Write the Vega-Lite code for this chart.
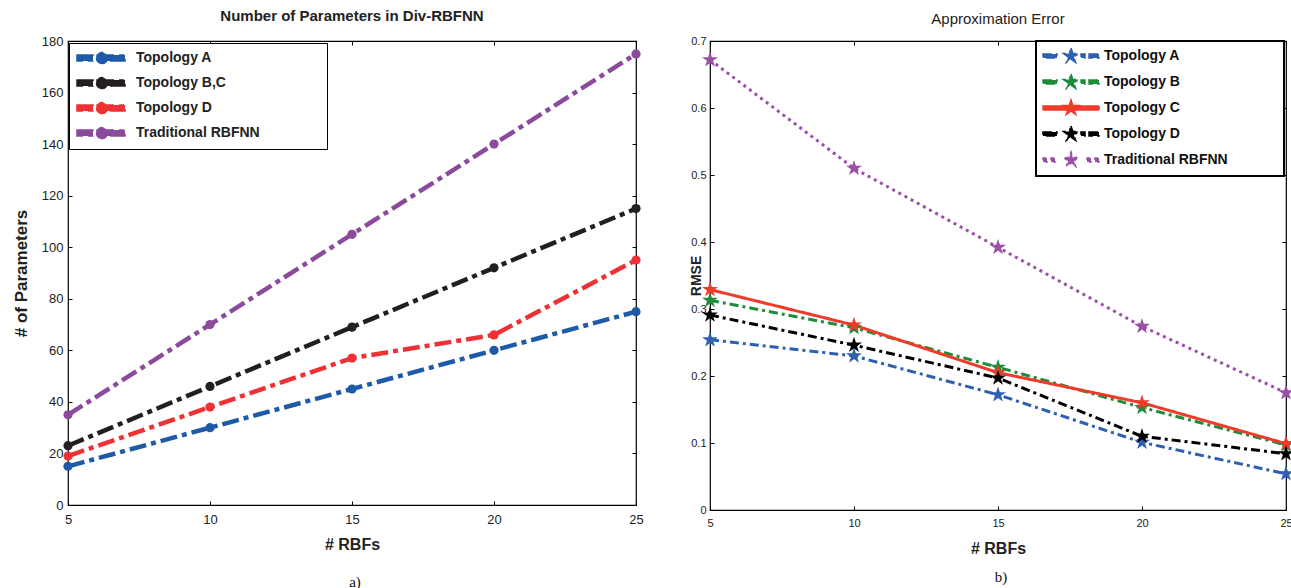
{
  "$schema": "https://vega.github.io/schema/vega-lite/v6.json",
  "background": "white",
  "padding": {"left": 11, "top": 8, "right": 0, "bottom": 0},
  "spacing": 42,
  "resolve": {"scale": {"color": "independent", "strokeDash": "independent"}, "legend": {"color": "independent"}},
  "config": {
    "font": "Liberation Sans",
    "view": {"stroke": "black", "strokeWidth": 1.2},
    "axis": {"grid": false, "domain": false, "tickColor": "black", "labelColor": "#222", "titleColor": "#222", "labelFont": "Liberation Sans", "titleFont": "Liberation Sans"}
  },
  "datasets": {
    "params": [
      {"rbf": 5, "topology": "Topology A", "params": 15},
      {"rbf": 10, "topology": "Topology A", "params": 30},
      {"rbf": 15, "topology": "Topology A", "params": 45},
      {"rbf": 20, "topology": "Topology A", "params": 60},
      {"rbf": 25, "topology": "Topology A", "params": 75},
      {"rbf": 5, "topology": "Topology B,C", "params": 23},
      {"rbf": 10, "topology": "Topology B,C", "params": 46},
      {"rbf": 15, "topology": "Topology B,C", "params": 69},
      {"rbf": 20, "topology": "Topology B,C", "params": 92},
      {"rbf": 25, "topology": "Topology B,C", "params": 115},
      {"rbf": 5, "topology": "Topology D", "params": 19},
      {"rbf": 10, "topology": "Topology D", "params": 38},
      {"rbf": 15, "topology": "Topology D", "params": 57},
      {"rbf": 20, "topology": "Topology D", "params": 66},
      {"rbf": 25, "topology": "Topology D", "params": 95},
      {"rbf": 5, "topology": "Traditional RBFNN", "params": 35},
      {"rbf": 10, "topology": "Traditional RBFNN", "params": 70},
      {"rbf": 15, "topology": "Traditional RBFNN", "params": 105},
      {"rbf": 20, "topology": "Traditional RBFNN", "params": 140},
      {"rbf": 25, "topology": "Traditional RBFNN", "params": 175}
    ],
    "error": [
      {"rbf": 5, "topology": "Topology A", "rmse": 0.254},
      {"rbf": 10, "topology": "Topology A", "rmse": 0.230},
      {"rbf": 15, "topology": "Topology A", "rmse": 0.172},
      {"rbf": 20, "topology": "Topology A", "rmse": 0.101},
      {"rbf": 25, "topology": "Topology A", "rmse": 0.054},
      {"rbf": 5, "topology": "Topology B", "rmse": 0.313},
      {"rbf": 10, "topology": "Topology B", "rmse": 0.272},
      {"rbf": 15, "topology": "Topology B", "rmse": 0.213},
      {"rbf": 20, "topology": "Topology B", "rmse": 0.153},
      {"rbf": 25, "topology": "Topology B", "rmse": 0.097},
      {"rbf": 5, "topology": "Topology C", "rmse": 0.329},
      {"rbf": 10, "topology": "Topology C", "rmse": 0.276},
      {"rbf": 15, "topology": "Topology C", "rmse": 0.205},
      {"rbf": 20, "topology": "Topology C", "rmse": 0.160},
      {"rbf": 25, "topology": "Topology C", "rmse": 0.099},
      {"rbf": 5, "topology": "Topology D", "rmse": 0.291},
      {"rbf": 10, "topology": "Topology D", "rmse": 0.246},
      {"rbf": 15, "topology": "Topology D", "rmse": 0.197},
      {"rbf": 20, "topology": "Topology D", "rmse": 0.110},
      {"rbf": 25, "topology": "Topology D", "rmse": 0.084},
      {"rbf": 5, "topology": "Traditional RBFNN", "rmse": 0.672},
      {"rbf": 10, "topology": "Traditional RBFNN", "rmse": 0.510},
      {"rbf": 15, "topology": "Traditional RBFNN", "rmse": 0.392},
      {"rbf": 20, "topology": "Traditional RBFNN", "rmse": 0.274},
      {"rbf": 25, "topology": "Traditional RBFNN", "rmse": 0.175}
    ]
  },
  "hconcat": [
    {
      "title": {"text": "a)", "orient": "bottom", "anchor": "middle", "frame": "group", "font": "Liberation Serif", "fontSize": 15, "fontWeight": "normal", "color": "#111", "offset": 22, "dx": 287},
      "vconcat": [
        {
          "width": 568,
          "height": 464,
          "title": {"text": "Number of Parameters in Div-RBFNN", "fontSize": 15, "fontWeight": "bold", "color": "#222", "frame": "group", "anchor": "middle", "offset": 11},
          "data": {"name": "params"},
          "resolve": {"axis": {"x": "independent", "y": "independent"}},
          "layer": [
            {
              "mark": {"type": "line", "strokeWidth": 4.5, "strokeCap": "butt"},
              "encoding": {
                "x": {"field": "rbf", "type": "quantitative", "scale": {"domain": [5, 25], "nice": false},
                  "axis": {"values": [5, 10, 15, 20, 25], "title": "# RBFs", "labelFontSize": 13, "titleFontSize": 16, "titleFontWeight": "bold", "tickSize": -4, "labelPadding": 12, "titlePadding": 10, "labelFlush": false}},
                "y": {"field": "params", "type": "quantitative", "scale": {"domain": [0, 180], "nice": false},
                  "axis": {"values": [0, 20, 40, 60, 80, 100, 120, 140, 160, 180], "title": "# of Parameters", "labelFontSize": 13, "titleFontSize": 17, "titleFontWeight": "bold", "tickSize": -4, "labelPadding": 9, "titlePadding": 11}},
                "color": {"field": "topology", "type": "nominal",
                  "scale": {"domain": ["Topology A", "Topology B,C", "Topology D", "Traditional RBFNN"], "range": ["#1f5aa8", "#231f20", "#ee3134", "#8b4a9c"]},
                  "legend": {"title": null, "orient": "none", "legendX": 1, "legendY": 2, "fillColor": "white", "strokeColor": "black", "padding": 7, "rowPadding": 7, "labelFontSize": 14, "labelFontWeight": "bold", "labelColor": "#222", "labelOffset": 44, "labelLimit": 400, "symbolSize": 196,
                    "labelExpr": "datum.label + '\u2800\u2800\u2800\u2800\u2800\u2800'",
                    "encode": {"symbols": {"update": {
                      "shape": {"value": "M-1,-0.43H1.29V0.43H-1Z M1.86,-0.43H5.86V0.43H1.86Z M3.36,0A0.79,0.79 0 1,1 1.78,0A0.79,0.79 0 1,1 3.36,0Z"},
                      "fill": {"signal": "datum.value === 'Topology A' ? '#1f5aa8' : datum.value === 'Topology B,C' ? '#231f20' : datum.value === 'Topology D' ? '#ee3134' : '#8b4a9c'"},
                      "stroke": {"value": "transparent"}, "strokeDash": {"value": []}, "opacity": {"value": 1}, "size": {"value": 196}}}}}},
                "strokeDash": {"field": "topology", "type": "nominal",
                  "scale": {"domain": ["Topology A", "Topology B,C", "Topology D", "Traditional RBFNN"], "range": [[17, 5, 5, 5], [17, 5, 5, 5], [17, 5, 5, 5], [17, 5, 5, 5]]},
                  "legend": null}
              }
            },
            {
              "mark": {"type": "point", "filled": true, "shape": "circle", "size": 85, "opacity": 1},
              "encoding": {
                "x": {"field": "rbf", "type": "quantitative", "axis": {"orient": "top", "values": [5, 10, 15, 20, 25], "labels": false, "title": null, "tickSize": -4}},
                "y": {"field": "params", "type": "quantitative", "axis": {"orient": "right", "values": [0, 20, 40, 60, 80, 100, 120, 140, 160, 180], "labels": false, "title": null, "tickSize": -4}},
                "color": {"field": "topology", "type": "nominal", "legend": null}
              }
            }
          ]
        }
      ]
    },
    {
      "title": {"text": "b)", "orient": "bottom", "anchor": "middle", "frame": "group", "font": "Liberation Serif", "fontSize": 15, "fontWeight": "normal", "color": "#111", "offset": 13, "dx": 291},
      "vconcat": [
        {
          "width": 576,
          "height": 469,
          "title": {"text": "Approximation Error", "fontSize": 15, "fontWeight": "normal", "color": "#222", "frame": "group", "anchor": "middle", "offset": 8},
          "data": {"name": "error"},
          "resolve": {"axis": {"x": "independent", "y": "independent"}},
          "layer": [
            {
              "mark": {"type": "line", "strokeWidth": 3, "strokeCap": "butt"},
              "encoding": {
                "x": {"field": "rbf", "type": "quantitative", "scale": {"domain": [5, 25], "nice": false},
                  "axis": {"values": [5, 10, 15, 20, 25], "title": "# RBFs", "labelFontSize": 11, "titleFontSize": 16, "titleFontWeight": "bold", "tickSize": -4, "labelPadding": 11, "titlePadding": 12, "labelFlush": false}},
                "y": {"field": "rmse", "type": "quantitative", "scale": {"domain": [0, 0.7], "nice": false},
                  "axis": {"values": [0, 0.1, 0.2, 0.3, 0.4, 0.5, 0.6, 0.7], "format": "~g", "title": "RMSE", "labelFontSize": 11, "titleFontSize": 14, "titleFontWeight": "bold", "tickSize": -4, "labelPadding": 8, "titleX": -7}},
                "color": {"field": "topology", "type": "nominal",
                  "scale": {"domain": ["Topology A", "Topology B", "Topology C", "Topology D", "Traditional RBFNN"], "range": ["#2e5fb0", "#1e8c3a", "#f03a2a", "#000000", "#9b4fa8"]},
                  "legend": {"title": null, "orient": "none", "legendX": 326, "legendY": 0, "fillColor": "white", "strokeColor": "black", "padding": 6, "rowPadding": 5, "labelFontSize": 14, "labelFontWeight": "bold", "labelColor": "#111", "labelOffset": 44, "labelLimit": 400, "symbolSize": 256,
                    "labelExpr": "datum.label + '\u2800\u2800\u2800\u2800\u2800'",
                    "encode": {
                      "legend": {"update": {"strokeWidth": {"value": 2}}},
                      "symbols": {"update": {
                      "shape": {"signal": "datum.value === 'Topology C' ? 'M-1,-0.25H6V0.25H-1Z M2.5,-1L2.725,-0.309L3.451,-0.309L2.863,0.118L3.088,0.809L2.5,0.382L1.912,0.809L2.137,0.118L1.549,-0.309L2.275,-0.309Z' : datum.value === 'Traditional RBFNN' ? 'M-1,-0.25H-0.5V0.25H-1Z M0,-0.25H0.5V0.25H0Z M4.5,-0.25H5V0.25H4.5Z M5.5,-0.25H6V0.25H5.5Z M2.5,-1L2.725,-0.309L3.451,-0.309L2.863,0.118L3.088,0.809L2.5,0.382L1.912,0.809L2.137,0.118L1.549,-0.309L2.275,-0.309Z' : 'M-1,-0.25H0.75V0.25H-1Z M3.75,-0.25H4.25V0.25H3.75Z M4.75,-0.25H6V0.25H4.75Z M2.5,-1L2.725,-0.309L3.451,-0.309L2.863,0.118L3.088,0.809L2.5,0.382L1.912,0.809L2.137,0.118L1.549,-0.309L2.275,-0.309Z'"},
                      "fill": {"signal": "datum.value === 'Topology A' ? '#2e5fb0' : datum.value === 'Topology B' ? '#1e8c3a' : datum.value === 'Topology C' ? '#f03a2a' : datum.value === 'Topology D' ? '#000000' : '#9b4fa8'"},
                      "stroke": {"value": "transparent"}, "strokeDash": {"value": []}, "opacity": {"value": 1}, "size": {"value": 256}}}}}},
                "strokeDash": {"field": "topology", "type": "nominal",
                  "scale": {"domain": ["Topology A", "Topology B", "Topology C", "Topology D", "Traditional RBFNN"], "range": [[9, 4, 3, 4], [9, 4, 3, 4], [1, 0], [9, 4, 3, 4], [3, 4]]},
                  "legend": null}
              }
            },
            {
              "mark": {"type": "point", "filled": true, "size": 280, "opacity": 1, "shape": "M0,-1L0.225,-0.309L0.951,-0.309L0.363,0.118L0.588,0.809L0,0.382L-0.588,0.809L-0.363,0.118L-0.951,-0.309L-0.225,-0.309Z"},
              "encoding": {
                "x": {"field": "rbf", "type": "quantitative", "axis": {"orient": "top", "values": [5, 10, 15, 20, 25], "labels": false, "title": null, "tickSize": -4}},
                "y": {"field": "rmse", "type": "quantitative", "axis": {"orient": "right", "values": [0, 0.1, 0.2, 0.3, 0.4, 0.5, 0.6, 0.7], "labels": false, "title": null, "tickSize": -4}},
                "color": {"field": "topology", "type": "nominal", "legend": null}
              }
            }
          ]
        }
      ]
    }
  ]
}
